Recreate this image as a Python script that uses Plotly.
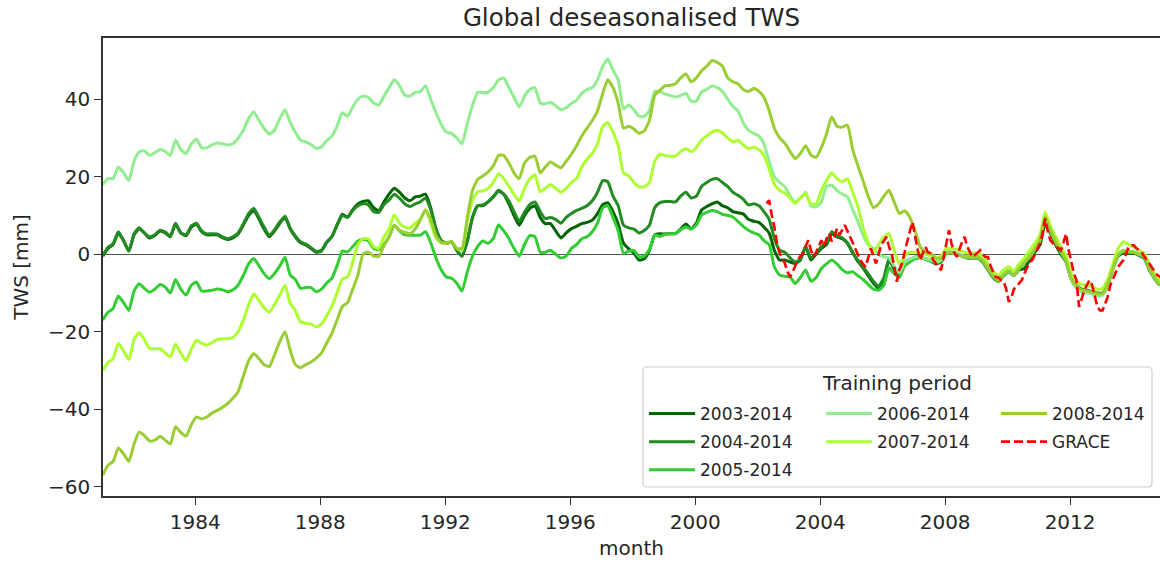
import plotly.graph_objects as go

# Bimonthly sample dates (mid-month) for the model runs, monthly for GRACE
months = [f"{y}-{m:02d}-15" for y in range(1981, 2015) for m in (1, 3, 5, 7, 9, 11)]
grace_months = [f"{y}-{m:02d}-15" for y in range(2002, 2015) for m in range(1, 13)
                if (y, m) >= (2002, 4)]

tws_2003 = [
    -0.5, 1.5, 2.5, 5.5, 3.5, 0.8,
    5, 6.6, 5.5, 4.2, 4.8, 6,
    5.5, 4.5, 7.8, 5.5, 4.8, 7,
    7.8, 5.8, 5, 5, 5, 4.3,
    3.8, 4.2, 5.2, 7.5, 10, 11.3,
    9, 6.5, 4.5, 6, 8, 9.5,
    6.5, 4.5, 3, 2.4, 1.5, 0.5,
    0.9, 3, 4.5, 7.5, 10.3, 9.6,
    11.5, 13, 13.6, 13.8, 12, 11.2,
    13.5, 15.5, 17, 16, 14.5, 13.8,
    14.8, 15, 15.5, 12, 6.5, 3.5,
    2.8, 3.2, 1, -0.5, 3.5, 9.5,
    12.5, 12.5, 13.5, 14.8, 16.3, 15.5,
    13, 10, 7.5, 10, 11.8, 12.5,
    9.5, 7.9, 7.9, 6, 4.2, 5.5,
    6.6, 7.2, 7.9, 8.2, 8.8, 10.5,
    12.8, 13.3, 11, 7.8, 2.8, 1.4,
    0.3, -1.5, -1.2, 1, 5, 5.3,
    5.2, 5.3, 5.3, 6.5, 7.8, 6.5,
    8, 11.4, 12.3, 13, 13.5, 12.5,
    12, 11, 10.7, 10.4, 9, 8.5,
    8.2, 7, 5.5, 1, -1.5, -1.5,
    -2, -2.4, -1.5, 1.9, -1.5, 0,
    1.5, 2.5, 5.3, 4.5, 4, 2.8,
    0.5, -1.8, -3.5, -5.5, -7.5, -8.8,
    -6.5, -1.5, -3.8, -5.2, -2, -1.5,
    -1, -0.8, -1.2, -1.8, -2.5, -2,
    0.3, 0.3, 0, -0.5, -1, -1,
    -1, -2, -4, -6, -7, -5.5,
    -4.5, -5.5, -4, -3.7, -1.5, 0.5,
    2.5, 7.9, 5.5, 2.5, 0, -2,
    -6.5, -8.5, -9.5, -9.8, -10, -10.5,
    -10.3, -8, -3.8, -0.5, 0.5, 0.3,
    0.3, -0.3, -1, -4, -6.3, -8,
]

tws_2004 = [
    -0.3, 1.8, 2.7, 5.8, 3.5, 0.8,
    5.3, 6.8, 5.5, 4.5, 5, 6.2,
    5.7, 4.7, 8, 5.5, 5, 7.3,
    8, 6, 5.2, 5.3, 5.2, 4.5,
    4, 4.5, 5.5, 7.8, 10.5, 11.8,
    9.5, 7, 4.8, 6.3, 8.3, 9.8,
    6.7, 4.7, 3.2, 2.6, 1.7, 0.7,
    1, 3.1, 4.5, 7.5, 10, 9.5,
    11.3, 12.5, 13, 12.8, 11, 10.8,
    12.8, 14, 15.5, 14.5, 13, 12.3,
    13, 13.5, 14.5, 11.5, 6.5, 3.5,
    2.8, 3.2, 1, -0.5, 3.5, 9.5,
    12.5, 12.7, 13.5, 14.8, 16.5, 15.5,
    13.7, 11, 8.5, 10.8, 12.8, 13.5,
    11, 9.2, 9.5, 9, 8, 9.5,
    10.5, 11.3, 11.8, 12.5, 13.8, 16,
    19, 18.7, 15, 12.5, 7.5, 6.8,
    6.5, 5.5, 6.1, 7.5, 12, 13.3,
    13.6, 13.6, 13.5, 15, 16, 14.5,
    15, 17.5, 18.5, 19.3, 19.5, 18.5,
    17.5, 16, 15.2, 14.2, 12.7, 13,
    12.5, 11, 9, 4, 1, 0.5,
    -1, -2, -1.2, 2, -1, 0.3,
    2, 3, 5.8, 4.8, 4.2, 3,
    0.3, -1.5, -3.3, -5, -7, -8.3,
    -6, -1.3, -3.5, -5, -2, -1.3,
    -0.7, -0.7, -1.1, -1.5, -2, -1.5,
    0.5, 0.5, 0.2, -0.3, -0.7, -0.7,
    -0.7, -1.5, -3.5, -5.5, -6.5, -5,
    -4.2, -5.3, -3.5, -2, -0.5, 1.5,
    4, 9.8, 6.5, 3.5, 1, -1.5,
    -6, -8, -9, -9.3, -9.6, -10,
    -10, -7.5, -3.5, 0, 1, 0.8,
    0.6, 0.1, -0.5, -3.5, -6, -7.6,
]

tws_2005 = [
    -17, -15, -14, -10.8, -12.5, -14.5,
    -9.5, -7.6, -8.8, -9.8, -9, -7.8,
    -8.5, -10, -6.5, -9, -10.5, -8,
    -7.2, -9.5, -9.5, -9.3, -9, -9.2,
    -9.7, -9.2, -8, -5.5, -2.5, -1.1,
    -3, -5, -6.3, -5, -3, -0.8,
    -5.4, -6.5, -8.8, -8.6, -8.6, -9.7,
    -9, -7.5, -6.2, -3, 0.8, 0.6,
    2, 3.4, 3.8, 3.5, 1.5, 1.2,
    2.5, 4.5, 7.5, 6, 5, 4.9,
    4.9, 4.9, 5.8, 3, -1, -4,
    -5.9, -6.2, -7.5, -9.5, -4.5, -0.5,
    2, 3.4, 2.8, 4, 7.6, 6,
    4, 1.5, -0.5, 2.5, 4.8, 4.5,
    0.5, 0.5, 1, 0, -1, -0.5,
    1.5, 2.5, 4, 4.5, 5.8, 8,
    12, 12.5, 9.5, 6, 0.2, 0.8,
    1, -0.7, -0.5, 1.2, 5, 4.6,
    5.2, 5.3, 5.3, 6.3, 7, 6.5,
    7.5, 10.1, 10.8, 11.3, 11, 10.3,
    10, 9.6, 8.5, 7.2, 6.2, 5.5,
    5, 3.5, 2.5, -3.3, -5.4, -5.7,
    -5.9, -7.6, -6, -4.1, -7, -6,
    -3.7, -2.5, -1.5, -2.5, -4, -4.8,
    -4.5, -5.5, -6.5, -7.8, -9, -9.3,
    -8, -3.5, -5, -6, -3, -2,
    -1.2, -1, -1.3, -1.8, -2.3, -1.8,
    0.2, 0.3, 0, -0.5, -1, -1,
    -1, -1.8, -3.8, -5.8, -7, -5.5,
    -4.5, -5.5, -3.8, -2.3, -0.8, 1.2,
    3.5, 9.5, 6, 3, 0.5, -2,
    -6.5, -8.5, -9.3, -9.6, -10, -10.3,
    -10.3, -8, -3.8, -0.3, 0.8, 0.5,
    0.4, -0.2, -0.8, -3.8, -6.3, -8,
]

tws_2006 = [
    18, 19.5, 19.5, 22.5, 21, 19,
    24, 26.4, 26.7, 25.5, 26.2, 27,
    26.5, 25.5, 29.5, 27, 26, 28.5,
    29.7, 27.5, 27.5, 28.2, 28.7, 28.5,
    28.2, 28.5, 29.9, 32, 35, 36.7,
    34.5, 32.5, 31, 32, 35, 37.3,
    34, 31.5, 29.4, 29, 28.3, 27.3,
    27.7, 29.3, 30.4, 33, 36.5, 35.6,
    38, 40, 40.8, 40.5, 39, 38.5,
    40.8, 43, 45, 43.5, 41, 40.8,
    41.8, 41.9, 43.5, 40, 36.5, 33.5,
    31.5, 31.2, 30, 28.5, 33.7, 38.5,
    41.8, 41.7, 41.8, 43, 45, 45.5,
    43, 40.5, 38, 40.8, 42.5, 43,
    39, 38.8, 39.2, 38.3, 37.3, 37.8,
    38.9, 39.8, 41.5, 42.5, 43, 45,
    48.5, 50.4, 47.5, 45, 37.5, 38.5,
    37.3, 35.6, 35.6, 37, 42, 42,
    41.3, 41, 40.6, 41, 41.5, 39.5,
    39.5, 41.9, 42.5, 43.4, 43, 42,
    40, 38.2, 37, 34, 32, 31.2,
    30.5, 28.5, 24, 20, 18.5, 17.4,
    15, 13.5, 14.5, 16, 12.5, 12.2,
    13.5, 17.5, 17.8, 16.5, 15.5, 14.8,
    11.5, 8.5, 5, 2.5, 1.5, 0,
    -0.7, -1, -3, -4.8, -2, -1.3,
    -0.7, -0.7, -1.1, -1.5, -2, -1.5,
    0.5, 0.5, 0.2, -0.3, -0.7, -0.7,
    -0.7, -1.5, -3.5, -5.5, -6.5, -5,
    -4.2, -5.3, -3.5, -2, -0.5, 1.5,
    4, 9.8, 6.5, 3.5, 1, -1.5,
    -6.5, -8.5, -9.8, -10, -10.3, -10.8,
    -10.6, -8, -3.5, 0, 1, 0.8,
    0.6, 0.1, -0.5, -3.5, -6, -7.6,
]

tws_2007 = [
    -30, -28, -27, -23, -25, -27.2,
    -22, -20.3, -22, -24.3, -24.4, -24.4,
    -25.5, -26.5, -23.2, -25.5, -27.5, -24.5,
    -22.2, -23, -23.5, -22.8, -22, -21.8,
    -21.8, -21.5, -20, -17, -13, -10.2,
    -12, -13.8, -14.9, -13, -10.5, -8,
    -12.7, -14.5, -17.5, -17.8, -18, -18.8,
    -18, -16, -13.4, -10, -6.4, -5.9,
    -2, 2.5, 4, 4, 2, 1.5,
    4.5, 6.5, 10.2, 8, 7, 6.8,
    8, 9, 11.5, 8, 4.2, 3,
    2.9, 3.2, 1.5, 1, 8.5, 14,
    16.2, 16.3, 17, 18.5, 20.8, 19.5,
    17.5, 15.5, 13.7, 17, 19.5, 20.5,
    16.1, 17, 18, 17, 16, 17,
    18.5, 19.5, 22.5, 24.5, 26, 28.5,
    33, 34, 31.5, 28, 21, 20.2,
    18.5, 17.4, 17.4, 18.5, 24, 25.8,
    25.5, 25.3, 25.3, 26.5, 27.3, 26.5,
    27.5, 29.5, 30.5, 31.5, 32, 31.3,
    30, 29, 29.4, 28.2, 27.3, 27.6,
    27, 25.5, 22, 18, 16.5, 15.7,
    14.5, 13.1, 14.5, 15.7, 13, 13,
    16.5, 19, 21, 19.5, 18.7, 19.5,
    16, 12.5, 7.1, 3, 0.6, 2.5,
    4.5, 5.3, 1, -2.6, -0.5, 0.5,
    0.5, 0.5, 0, -0.5, -1, -0.5,
    1.5, 1.5, 1.2, 0.8, 0.3, 0.3,
    0.2, -0.5, -2.5, -4.5, -5.5, -4,
    -3.3, -4.3, -2.5, -1, 1, 2.8,
    5, 10.9, 7.3, 4.5, 2, -0.5,
    -5, -7, -7.8, -8, -8.5, -9,
    -8.8, -6.5, -2.5, 1.5, 3.2, 2.5,
    1.8, 1, 0.3, -2.5, -5, -7,
]

tws_2008 = [
    -57, -54.5, -53.5, -50, -51.5, -53.5,
    -49, -45.9, -46.8, -48.2, -48, -47,
    -48, -49, -44.5, -46, -47, -44,
    -42, -42.5, -42, -41, -40.3, -39.5,
    -38.5, -37.2, -35.5, -31.5, -27.5, -25.6,
    -27, -28.5, -29, -26, -22.5, -20,
    -24.8, -28.5, -29.3, -28.5, -27.8, -26.8,
    -25.5, -23, -20.5, -17, -13.5, -12.5,
    -9, -5.5, 0, 0.6, -0.5, -0.6,
    2.2, 4.5, 7.5, 6.2, 5.6, 5.3,
    6.5, 8.8, 11.5, 9, 4.8, 3,
    2.9, 3.2, 1.5, 1.5, 9.5, 16.5,
    19.3, 20.2, 21.2, 22.8, 25.5, 25.5,
    23.5, 21, 19.5, 23.5, 25, 25.3,
    21, 22.5, 23.8, 23, 22.3, 24,
    25.8, 28, 30.5, 32.5, 34.5, 37,
    41.5, 45, 43, 39, 32.5, 33,
    32.3, 31.2, 31.8, 34.5, 41, 42.3,
    43.5, 43.6, 44, 45.5, 46.5, 44.5,
    45.5, 47.3, 48.5, 50, 49.5, 48.5,
    45.5, 44.5, 44, 42.5, 42, 42.8,
    42, 40.5, 37, 32.5, 30, 28.6,
    26.5, 24.7, 26, 28, 25.6, 25,
    27.5, 31, 35.5, 33, 32.8, 33.3,
    27, 23, 19.1, 15, 12, 13,
    15, 16.5, 13.5, 10.5, 11.2, 9.5,
    6, 2, 0.5, 0.2, -1, -1,
    0.3, 0.4, 0, -0.5, -0.8, -0.8,
    -0.8, -1.6, -3.6, -5.6, -6.7, -5.2,
    -4.3, -5.4, -3.6, -2.1, -0.6, 1.4,
    3.8, 9.6, 6.3, 3.3, 0.8, -1.7,
    -6.2, -8.2, -9.2, -9.5, -9.8, -10.2,
    -10.2, -7.7, -3.7, -0.2, 0.9, 0.7,
    0.5, 0, -0.6, -3.6, -6.1, -7.8,
]

grace = [
    13.1, 13.9, 10, 7, 2.8, 0.2, -1, -2.4, -4.5,
    -5.9, -4.5, -3, -1.5, -0.5, 0.2, 2, 3.6, 1, -0.7, 0.5, 1.9,
    3.6, 2, 4, 5.3, 3.3, 4.5, 6.6, 5, 6.5, 7.5, 6, 4.5,
    3, 1, 0, -1.5, -2.5, -3.3, -1, 1.5, -0.5, -2.4, 0, 2.5,
    3.5, 4.5, 2, 0.2, -3, -7.1, -4, -2.4, 0.5, 3.6, 6, 8.3,
    4.5, 1, -1.5, 0.5, 1.9, 0.5, 0.2, -1.5, -2.5, -3.3, -4.1, -1,
    3, 6.2, 2.8, 0.5, -0.7, 1.5, 3, 4.5, 2, 0.6, -0.7, -0.2,
    0.5, 1, 0, -0.7, -0.7, -3, -4.5, -5.9, -6, -6.7, -7, -9,
    -12.3, -11, -9, -8.4, -7.5, -6.7, -5, -3.5, -2, -1.5, 0, 1.5,
    2.8, 5.5, 9.2, 6, 3.6, 2.8, 2.3, 1.5, 1, 3, 5.3, 1,
    -2.4, -5, -6.7, -13.6, -11.5, -9.3, -8, -6.7, -8, -11, -13.6, -14.5,
    -14.5, -12.7, -11, -8, -6.3, -4.5, -3.3, -2.4, -1.5, 0, 1.9, 2.3,
    2.3, 1.5, 1, 0.6, -0.5, -1.5, -2.4, -3.5, -4.5, -5.4, -5.8, -6.3,
]

periods = ["2003-2014", "2004-2014", "2005-2014", "2006-2014", "2007-2014", "2008-2014"]
series = [tws_2003, tws_2004, tws_2005, tws_2006, tws_2007, tws_2008]
colors = ["#006400", "#228B22", "#32CD32", "#90EE90", "#ADFF2F", "#9ACD32"]
legend_of = ["legend", "legend", "legend", "legend2", "legend2", "legend3"]

year_ticks = [1984, 1988, 1992, 1996, 2000, 2004, 2008, 2012]
y_ticks = [-60, -40, -20, 0, 20, 40]

fig = go.Figure()
for name, vals, col, lg in zip(periods, series, colors, legend_of):
    fig.add_trace(go.Scatter(
        x=months, y=vals, mode="lines", name=name,
        line=dict(color=col, width=3, shape="spline", smoothing=0.5),
        legend=lg, legendgroup=name,
    ))
fig.add_trace(go.Scatter(
    x=grace_months, y=grace, mode="lines", name="GRACE",
    line=dict(color="#FF0000", width=2.6, dash="9px,4px"),
    legend="legend3", legendgroup="GRACE",
))

# plot area in pixels: x 103..1160, y 38..496
L, R, T, B = 103, 1160, 38, 496


def px(x):
    return (x - L) / (R - L)


def py(y):
    return 1 - (y - T) / (B - T)


# rounded legend frame
x0, x1, y0, y1, r = 643, 1152, 367, 487, 4
rx, ry = r / (R - L), r / (B - T)
path = (f"M {px(x0)+rx} {py(y0)} L {px(x1)-rx} {py(y0)} Q {px(x1)} {py(y0)} {px(x1)} {py(y0)-ry} "
        f"L {px(x1)} {py(y1)+ry} Q {px(x1)} {py(y1)} {px(x1)-rx} {py(y1)} "
        f"L {px(x0)+rx} {py(y1)} Q {px(x0)} {py(y1)} {px(x0)} {py(y1)+ry} "
        f"L {px(x0)} {py(y0)-ry} Q {px(x0)} {py(y0)} {px(x0)+rx} {py(y0)} Z")

leg_common = dict(bgcolor="rgba(0,0,0,0)", borderwidth=0, font=dict(size=17, color="#262626"),
                  itemwidth=46, tracegroupgap=3, xanchor="left", yanchor="top")

fig.update_layout(
    width=1160, height=562,
    margin=dict(l=L, r=0, t=T, b=562 - B),
    paper_bgcolor="white", plot_bgcolor="white",
    font=dict(family="DejaVu Sans", size=20, color="#262626"),
    title=dict(text="Global deseasonalised TWS", x=0.5, xref="paper", xanchor="center",
               y=1 - 17 / 562, yref="container", yanchor="middle", font=dict(size=24.5)),
    xaxis=dict(type="date", range=["1981-01-17", "2014-11-17"],
               tickvals=[f"{y}-01-01" for y in year_ticks], ticktext=[str(y) for y in year_ticks],
               showline=True, mirror=True, linecolor="#333333", linewidth=1.5,
               ticks="outside", ticklen=7, tickwidth=1.3, tickcolor="#333333",
               showgrid=False, zeroline=False,
               title=dict(text="month", standoff=8, font=dict(size=20))),
    yaxis=dict(range=[-62.4, 55.8], tickvals=y_ticks,
               showline=True, mirror=False, linecolor="#333333", linewidth=1.5,
               ticks="outside", ticklen=7, tickwidth=1.3, tickcolor="#333333",
               showgrid=False, zeroline=True, zerolinecolor="#555555", zerolinewidth=1,
               title=dict(text="TWS [mm]", standoff=14, font=dict(size=20))),
    shapes=[dict(type="path", path=path, xref="paper", yref="paper",
                 fillcolor="rgba(255,255,255,0.8)", line=dict(color="#d0d0d0", width=1.2),
                 layer="above")],
    annotations=[dict(text="Training period", x=px(897), y=py(383), xref="paper", yref="paper",
                      xanchor="center", yanchor="middle", showarrow=False,
                      font=dict(size=20, color="#262626"))],
    legend=dict(x=px(644), y=py(396), **leg_common),
    legend2=dict(x=px(821), y=py(396), **leg_common),
    legend3=dict(x=px(996), y=py(396), **leg_common),
    showlegend=True,
)

fig.write_html("out.html")
